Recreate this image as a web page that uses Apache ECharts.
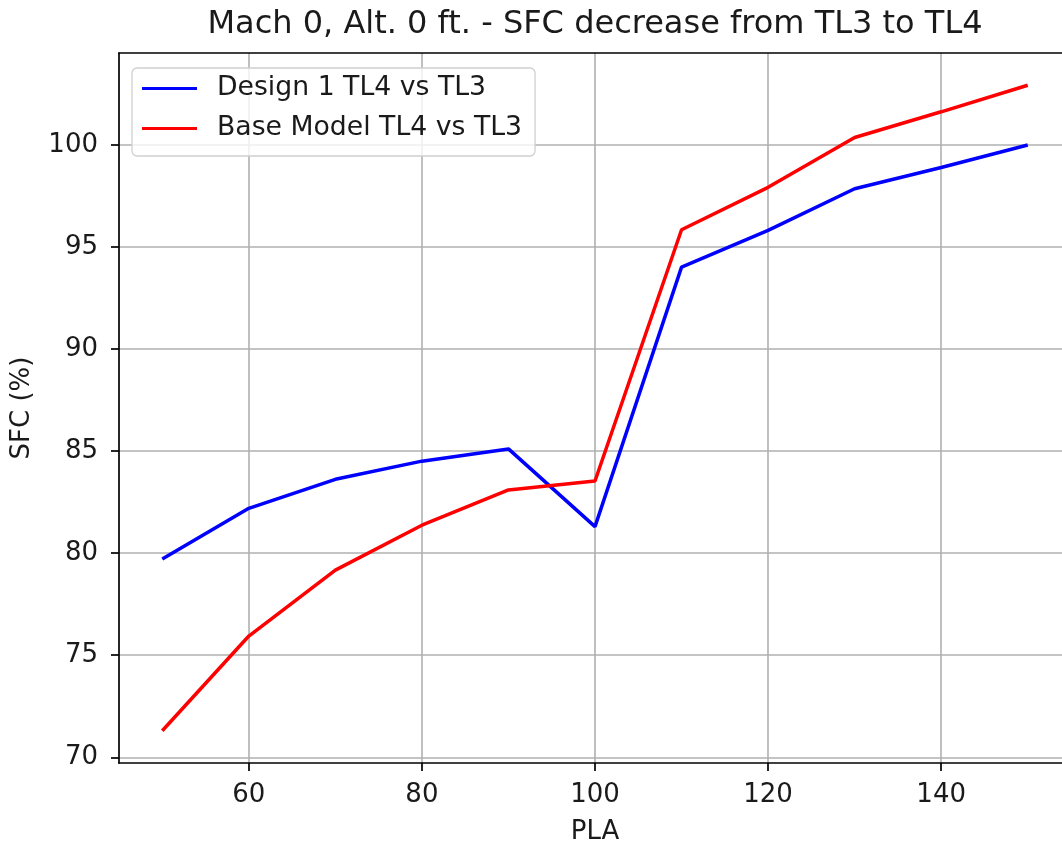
<!DOCTYPE html>
<html>
<head>
<meta charset="utf-8">
<script src="https://cdn.jsdelivr.net/npm/echarts@6/dist/echarts.min.js"></script>
<style>
  html, body { margin: 0; padding: 0; background: #fff; }
  #chart { width: 1062px; height: 844px; }
</style>
</head>
<body>
<div id="chart"></div>
<script>
// Throttle lever angle (PLA) settings
const pla = [50, 60, 70, 80, 90, 100, 110, 120, 130, 140, 150];
// SFC of TL4 relative to TL3, in percent
const design1 = [79.71, 82.2, 83.62, 84.51, 85.11, 81.3, 94.02, 95.82, 97.86, 98.9, 100.0];
const baseModel = [71.3, 75.94, 79.17, 81.37, 83.1, 83.54, 95.85, 97.93, 100.37, 101.63, 102.93];
// Tick positions
const xTicks = [60, 80, 100, 120, 140];
const yTicks = [70, 75, 80, 85, 90, 95, 100];

const FONT = 'DejaVu Sans';
const span = v => v.max - v.min; // 5% margins on each side of the data range
const axisMin = v => v.min - 0.05 * span(v);
const axisMax = v => v.max + 0.05 * span(v);

const chart = echarts.init(document.getElementById('chart'));
const pairs = arr => pla.map((x, i) => [x, arr[i]]);

const SPINE = { color: '#000', width: 1.7 };
const GRIDLINE = { color: '#b0b0b0', width: 1.6 };
const TEXT = '#1a1a1a';

chart.setOption({
  animation: false,
  backgroundColor: '#ffffff',
  textStyle: { fontFamily: FONT },
  title: {
    text: 'Mach 0, Alt. 0 ft. - SFC decrease from TL3 to TL4',
    left: 595,
    textAlign: 'center',
    top: 9,
    padding: 0,
    textStyle: { fontFamily: FONT, fontSize: 32, fontWeight: 'normal', color: TEXT }
  },
  legend: {
    orient: 'vertical',
    left: 132,
    top: 68,
    padding: [7, 13, 14, 10],
    itemGap: 13,
    itemWidth: 55,
    itemHeight: 3,
    icon: 'rect',
    backgroundColor: 'rgba(255,255,255,0.8)',
    borderColor: '#d0d0d0',
    borderWidth: 1.3,
    borderRadius: 5,
    textStyle: { fontFamily: FONT, fontSize: 26.7, color: TEXT, padding: [0, 0, 0, 15], lineHeight: 27 },
    data: ['Design 1 TL4 vs TL3', 'Base Model TL4 vs TL3']
  },
  grid: { left: 119, right: -9, top: 53, bottom: 81, containLabel: false, outerBoundsMode: 'none' },
  xAxis: [{
    type: 'value',
    min: axisMin,
    max: axisMax,
    name: 'PLA',
    nameLocation: 'middle',
    nameGap: 56,
    nameTextStyle: { fontFamily: FONT, fontSize: 26, color: TEXT },
    axisLine: { onZero: false, lineStyle: SPINE },
    axisTick: { show: true, length: 8, customValues: xTicks, lineStyle: SPINE },
    axisLabel: { customValues: xTicks, margin: 19, fontFamily: FONT, fontSize: 26, color: TEXT },
    splitLine: { show: true, customValues: xTicks, lineStyle: GRIDLINE }
  }, {
    type: 'value',
    position: 'top',
    min: axisMin,
    max: axisMax,
    axisLine: { show: true, onZero: false, lineStyle: SPINE },
    axisTick: { show: false },
    axisLabel: { show: false },
    splitLine: { show: false }
  }],
  yAxis: [{
    type: 'value',
    min: axisMin,
    max: axisMax,
    name: 'SFC (%)',
    nameLocation: 'middle',
    nameGap: 84,
    nameTextStyle: { fontFamily: FONT, fontSize: 26, color: TEXT },
    axisLine: { show: true, onZero: false, lineStyle: SPINE },
    axisTick: { show: true, length: 8, customValues: yTicks, lineStyle: SPINE },
    axisLabel: { customValues: yTicks, margin: 21, fontFamily: FONT, fontSize: 26, color: TEXT },
    splitLine: { show: true, customValues: yTicks, lineStyle: GRIDLINE }
  }],
  series: [{
    name: 'Design 1 TL4 vs TL3',
    type: 'line',
    data: pairs(design1),
    showSymbol: false,
    symbol: 'none',
    color: '#0000ff',
    lineStyle: { color: '#0000ff', width: 3.5 },
    z: 3
  }, {
    name: 'Base Model TL4 vs TL3',
    type: 'line',
    data: pairs(baseModel),
    showSymbol: false,
    symbol: 'none',
    color: '#ff0000',
    lineStyle: { color: '#ff0000', width: 3.5 },
    z: 3
  }]
});
</script>
</body>
</html>
